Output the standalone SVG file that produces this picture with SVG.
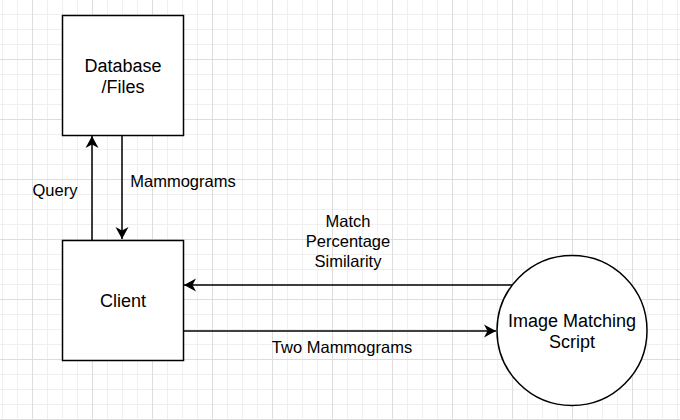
<svg xmlns="http://www.w3.org/2000/svg" width="680" height="420" viewBox="0 0 680 420">
  <style>
    .node { fill: #ffffff; stroke: #000000; stroke-width: 1.5; }
    .edge { fill: none; stroke: #000000; stroke-width: 1.5; }
    .nt { font-family: "Liberation Sans", Arial, sans-serif; font-size: 18px; fill: #000000; text-anchor: middle; }
    .et { font-family: "Liberation Sans", Arial, sans-serif; font-size: 16.5px; fill: #000000; text-anchor: middle; }
    .minor { stroke: #efefef; stroke-width: 1; }
    .major { stroke: #dddddd; stroke-width: 1; }
  </style>
  <defs>
    <pattern id="grid" patternUnits="userSpaceOnUse" x="2" y="14" width="60" height="60">
      <line class="minor" x1="0.5" y1="0" x2="0.5" y2="60"/>
      <line class="minor" x1="15.5" y1="0" x2="15.5" y2="60"/>
      <line class="minor" x1="45.5" y1="0" x2="45.5" y2="60"/>
      <line class="minor" x1="0" y1="0.5" x2="60" y2="0.5"/>
      <line class="minor" x1="0" y1="15.5" x2="60" y2="15.5"/>
      <line class="minor" x1="0" y1="30.5" x2="60" y2="30.5"/>
      <line class="major" x1="30.5" y1="0" x2="30.5" y2="60"/>
      <line class="major" x1="0" y1="45.5" x2="60" y2="45.5"/>
    </pattern>
    <marker id="arrow" viewBox="0 0 14 14" markerWidth="14" markerHeight="14" refX="13" refY="7" orient="auto" markerUnits="userSpaceOnUse">
      <path d="M1,0.5 L13,7 L1,13.5 L4.5,7 Z" fill="#000000"/>
    </marker>
  </defs>
  <rect width="680" height="420" fill="#ffffff"/>
  <rect width="680" height="420" fill="url(#grid)"/>

  <g id="connectors">
    <g id="edge-query">
      <line class="edge" x1="92" y1="240" x2="92" y2="136" marker-end="url(#arrow)"/>
      <text class="et" x="55" y="196">Query</text>
    </g>
    <g id="edge-mammograms">
      <line class="edge" x1="122" y1="135" x2="122" y2="239" marker-end="url(#arrow)"/>
      <text class="et" x="183" y="187">Mammograms</text>
    </g>
    <g id="edge-match">
      <line class="edge" x1="513" y1="285" x2="184" y2="285" marker-end="url(#arrow)"/>
      <text class="et" x="348" y="227">Match</text>
      <text class="et" x="348" y="247">Percentage</text>
      <text class="et" x="348" y="267">Similarity</text>
    </g>
    <g id="edge-two">
      <line class="edge" x1="183" y1="331" x2="496" y2="331" marker-end="url(#arrow)"/>
      <text class="et" x="342" y="353">Two Mammograms</text>
    </g>
  </g>

  <g id="node-database">
    <rect class="node" x="62.5" y="15.5" width="121" height="120"/>
    <text class="nt" x="123" y="72">Database</text>
    <text class="nt" x="123" y="93">/Files</text>
  </g>
  <g id="node-client">
    <rect class="node" x="62.5" y="240.5" width="121" height="120"/>
    <text class="nt" x="123" y="307">Client</text>
  </g>
  <g id="node-script">
    <circle class="node" cx="572" cy="330.5" r="75"/>
    <text class="nt" x="572" y="327">Image Matching</text>
    <text class="nt" x="572" y="348">Script</text>
  </g>
</svg>
